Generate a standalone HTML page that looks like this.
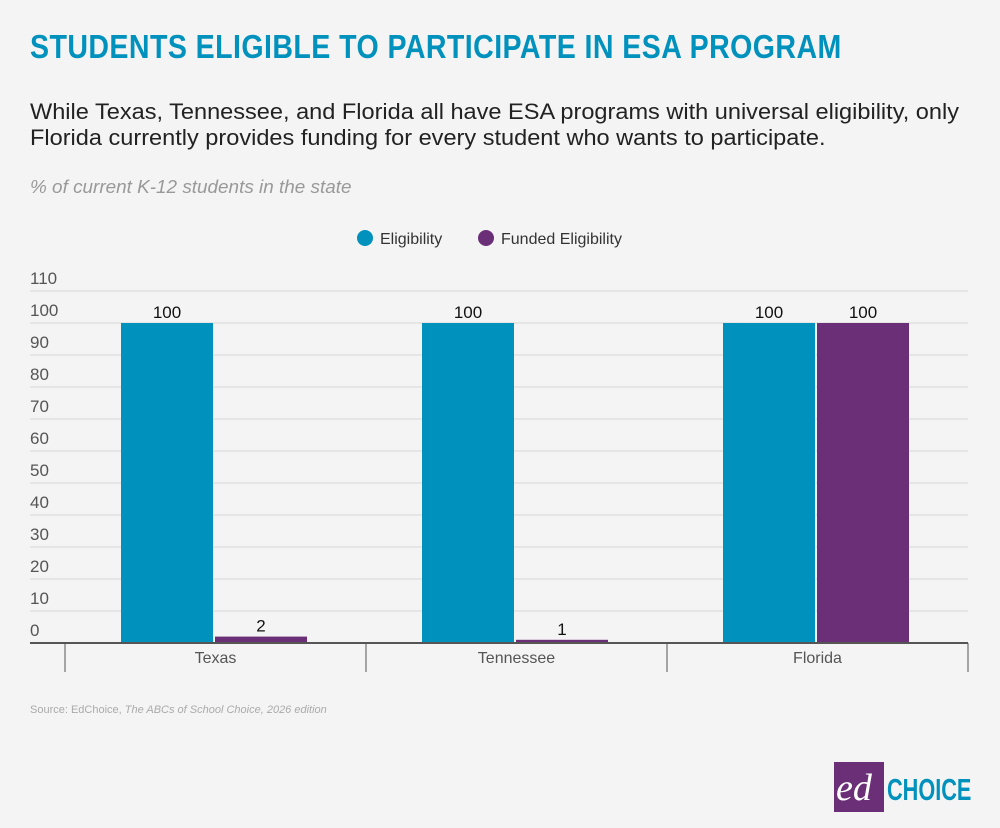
<!DOCTYPE html>
<html><head><meta charset="utf-8"><style>
body{margin:0;background:#f4f4f4;font-family:"Liberation Sans",sans-serif;}
#root{position:relative;width:1000px;height:828px;overflow:hidden;background:#f4f4f4;}
.t{position:absolute;white-space:nowrap;}
</style></head><body>
<div id="root">
<div class="t" style="left:30px;top:28px;font-size:33px;font-weight:bold;color:#0091bd;letter-spacing:0.5px;transform:scaleX(0.865);transform-origin:left;">STUDENTS ELIGIBLE TO PARTICIPATE IN ESA PROGRAM</div>
<div class="t" style="left:30px;top:99px;font-size:22px;line-height:26px;color:#222;transform:scaleX(1.07);transform-origin:left;">While Texas, Tennessee, and Florida all have ESA programs with universal eligibility, only<br>Florida currently provides funding for every student who wants to participate.</div>
<div class="t" style="left:30px;top:177px;font-size:18px;font-style:italic;color:#999;transform:scaleX(1.05);transform-origin:left;">% of current K-12 students in the state</div>
<div class="t" style="left:357px;top:230px;font-size:16px;color:#333;"><span style="display:inline-block;width:16px;height:16px;border-radius:50%;background:#0091bd;vertical-align:-2px;margin-right:7px;"></span>Eligibility</div>
<div class="t" style="left:478px;top:230px;font-size:16px;color:#333;"><span style="display:inline-block;width:16px;height:16px;border-radius:50%;background:#6b2f78;vertical-align:-2px;margin-right:7px;"></span>Funded Eligibility</div>
<svg id="chart" width="1000" height="828" style="position:absolute;left:0;top:0;font-family:'Liberation Sans',sans-serif;"></svg>
<div class="t" style="left:30px;top:704px;font-size:11px;color:#aaa;">Source: EdChoice, <i>The ABCs of School Choice, 2026 edition</i></div>
<div style="position:absolute;left:834px;top:762px;width:50px;height:50px;background:#6b2f78;"><span class="t" style="left:2px;top:4px;font-family:'Liberation Serif',serif;font-style:italic;font-size:38px;color:#fff;">ed</span></div>
<div class="t" style="left:887px;top:772px;font-size:31px;font-weight:bold;color:#0091bd;transform:scaleX(0.7);transform-origin:left;">CHOICE</div>
</div>
<script>
const categories=["Texas","Tennessee","Florida"];
const eligibility=[100,100,100];
const funded=[2,1,100];
const ticks=[0,10,20,30,40,50,60,70,80,90,100,110];
const svg=document.getElementById('chart');
const NS='http://www.w3.org/2000/svg';
const x0=30,x1=968,gx0=65,gw=301,base=643,per=3.2;
const y=v=>base-v*per;
function mk(tag,attrs){const e=document.createElementNS(NS,tag);for(const k in attrs)e.setAttribute(k,attrs[k]);svg.appendChild(e);return e;}
ticks.forEach(t=>{
 if(t>0){const l=mk('line',{x1:x0,x2:x1,y1:y(t),y2:y(t),stroke:'#d6d6d6','stroke-width':1});
 
 }
 const tx=mk('text',{x:x0,y:y(t)-7,'font-size':17,fill:'#555'});tx.textContent=t;
 
 
});
categories.forEach((c,i)=>{
 const cx=gx0+gw*(i+0.5);
 [[eligibility[i],'#0091bd',cx-94.5,'eligibility'],[funded[i],'#6b2f78',cx-0.5,'funded']].forEach(([v,col,bx,nm])=>{
  const r=mk('rect',{x:bx,y:y(v),width:92,height:v*per,fill:col});
  
  
  const t=mk('text',{x:bx+46,y:y(v)-5,'font-size':17,fill:'#111','text-anchor':'middle'});t.textContent=v;
  
  
 });
 const lt=mk('text',{x:cx,y:663,'font-size':16,fill:'#555','text-anchor':'middle'});lt.textContent=c;
 
 
});
for(let i=0;i<=categories.length;i++){const l=mk('line',{x1:gx0+gw*i,x2:gx0+gw*i,y1:643,y2:672,stroke:'#555','stroke-width':1});
 
 }
const ax=mk('line',{x1:x0,x2:x1,y1:base,y2:base,stroke:'#555','stroke-width':2});


</script>
</body></html>
